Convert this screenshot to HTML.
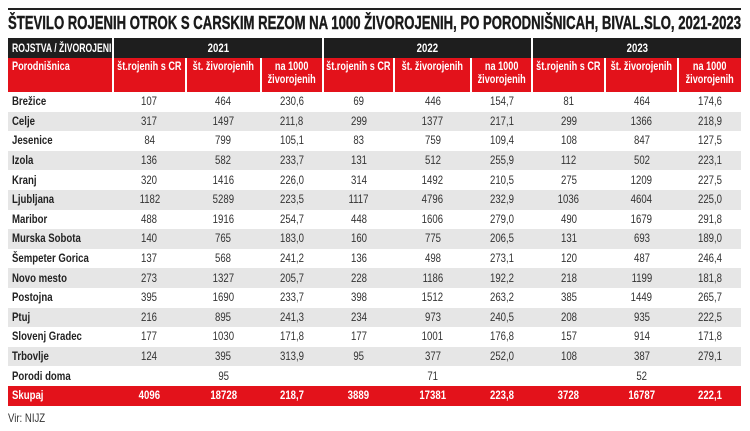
<!DOCTYPE html>
<html><head><meta charset="utf-8"><style>
body{margin:0;width:750px;height:431px;background:#fff;position:relative;overflow:hidden;font-family:"Liberation Sans",sans-serif;}
.rule{position:absolute;left:8px;top:8px;width:733px;height:2px;background:#222;}
svg.t{position:absolute;left:0;top:0;}
table{position:absolute;left:8px;top:38px;width:733px;border-collapse:collapse;table-layout:fixed;font-size:12px;color:#333;}
td{padding:0;text-align:center;height:19.6px;line-height:19px;white-space:nowrap;}
td span{display:inline-block;transform:scaleX(0.8);margin:0 -30px;}
tr.h1 td{background:#1e1e1e;color:#fff;font-weight:bold;height:20px;line-height:20px;border-left:2px solid #fff;}
tr.h2 td{background:#e3121b;color:#fff;font-weight:bold;height:32px;border-left:2px solid #fff;vertical-align:top;padding-top:2px;line-height:13px;}
tr.h2 td span{transform:scaleX(0.76);}
tr.h1 td:first-child span,tr.h2 td:first-child span,td.n span{transform-origin:left center;margin:0 -40px 0 0;}
tr.h1 td:first-child span{transform:scaleX(0.72);}
tr.h1 td:first-child,tr.h2 td:first-child{border-left:none;text-align:left;padding-left:4px;}
td.n{text-align:left;padding-left:4px;font-weight:bold;color:#222;}
tr.g td{background:#e6e6e6;}
tr.tot td{background:#e3121b;color:#fff;font-weight:bold;}
.vir{position:absolute;left:8px;top:411px;font-size:12px;color:#333;transform:scaleX(0.8);transform-origin:left;}
</style></head><body>
<div class="rule"></div>
<svg class="t" width="750" height="36"><text x="8" y="29" textLength="733" lengthAdjust="spacingAndGlyphs" font-family="Liberation Sans, sans-serif" font-weight="bold" font-size="18" fill="#1a1a1a" stroke="#1a1a1a" stroke-width="0.4">ŠTEVILO ROJENIH OTROK S CARSKIM REZOM NA 1000 ŽIVOROJENIH, PO PORODNIŠNICAH, BIVAL.SLO, 2021-2023</text></svg>
<table>
<colgroup><col style="width:105px"><col style="width:73px"><col style="width:75px"><col style="width:62px"><col style="width:71px"><col style="width:77px"><col style="width:61px"><col style="width:73px"><col style="width:73px"><col style="width:63px"></colgroup>
<tr class="h1"><td><span>ROJSTVA / ŽIVOROJENI</span></td><td colspan="3"><span>2021</span></td><td colspan="3"><span>2022</span></td><td colspan="3"><span>2023</span></td></tr>
<tr class="h2"><td><span>Porodnišnica</span></td><td><span>št.rojenih s CR</span></td><td><span>št. živorojenih</span></td><td><span>na 1000<br>živorojenih</span></td><td><span>št.rojenih s CR</span></td><td><span>št. živorojenih</span></td><td><span>na 1000<br>živorojenih</span></td><td><span>št.rojenih s CR</span></td><td><span>št. živorojenih</span></td><td><span>na 1000<br>živorojenih</span></td></tr>
<tr><td class="n"><span>Brežice</span></td><td><span>107</span></td><td><span>464</span></td><td><span>230,6</span></td><td><span>69</span></td><td><span>446</span></td><td><span>154,7</span></td><td><span>81</span></td><td><span>464</span></td><td><span>174,6</span></td></tr>
<tr class="g"><td class="n"><span>Celje</span></td><td><span>317</span></td><td><span>1497</span></td><td><span>211,8</span></td><td><span>299</span></td><td><span>1377</span></td><td><span>217,1</span></td><td><span>299</span></td><td><span>1366</span></td><td><span>218,9</span></td></tr>
<tr><td class="n"><span>Jesenice</span></td><td><span>84</span></td><td><span>799</span></td><td><span>105,1</span></td><td><span>83</span></td><td><span>759</span></td><td><span>109,4</span></td><td><span>108</span></td><td><span>847</span></td><td><span>127,5</span></td></tr>
<tr class="g"><td class="n"><span>Izola</span></td><td><span>136</span></td><td><span>582</span></td><td><span>233,7</span></td><td><span>131</span></td><td><span>512</span></td><td><span>255,9</span></td><td><span>112</span></td><td><span>502</span></td><td><span>223,1</span></td></tr>
<tr><td class="n"><span>Kranj</span></td><td><span>320</span></td><td><span>1416</span></td><td><span>226,0</span></td><td><span>314</span></td><td><span>1492</span></td><td><span>210,5</span></td><td><span>275</span></td><td><span>1209</span></td><td><span>227,5</span></td></tr>
<tr class="g"><td class="n"><span>Ljubljana</span></td><td><span>1182</span></td><td><span>5289</span></td><td><span>223,5</span></td><td><span>1117</span></td><td><span>4796</span></td><td><span>232,9</span></td><td><span>1036</span></td><td><span>4604</span></td><td><span>225,0</span></td></tr>
<tr><td class="n"><span>Maribor</span></td><td><span>488</span></td><td><span>1916</span></td><td><span>254,7</span></td><td><span>448</span></td><td><span>1606</span></td><td><span>279,0</span></td><td><span>490</span></td><td><span>1679</span></td><td><span>291,8</span></td></tr>
<tr class="g"><td class="n"><span>Murska Sobota</span></td><td><span>140</span></td><td><span>765</span></td><td><span>183,0</span></td><td><span>160</span></td><td><span>775</span></td><td><span>206,5</span></td><td><span>131</span></td><td><span>693</span></td><td><span>189,0</span></td></tr>
<tr><td class="n"><span>Šempeter Gorica</span></td><td><span>137</span></td><td><span>568</span></td><td><span>241,2</span></td><td><span>136</span></td><td><span>498</span></td><td><span>273,1</span></td><td><span>120</span></td><td><span>487</span></td><td><span>246,4</span></td></tr>
<tr class="g"><td class="n"><span>Novo mesto</span></td><td><span>273</span></td><td><span>1327</span></td><td><span>205,7</span></td><td><span>228</span></td><td><span>1186</span></td><td><span>192,2</span></td><td><span>218</span></td><td><span>1199</span></td><td><span>181,8</span></td></tr>
<tr><td class="n"><span>Postojna</span></td><td><span>395</span></td><td><span>1690</span></td><td><span>233,7</span></td><td><span>398</span></td><td><span>1512</span></td><td><span>263,2</span></td><td><span>385</span></td><td><span>1449</span></td><td><span>265,7</span></td></tr>
<tr class="g"><td class="n"><span>Ptuj</span></td><td><span>216</span></td><td><span>895</span></td><td><span>241,3</span></td><td><span>234</span></td><td><span>973</span></td><td><span>240,5</span></td><td><span>208</span></td><td><span>935</span></td><td><span>222,5</span></td></tr>
<tr><td class="n"><span>Slovenj Gradec</span></td><td><span>177</span></td><td><span>1030</span></td><td><span>171,8</span></td><td><span>177</span></td><td><span>1001</span></td><td><span>176,8</span></td><td><span>157</span></td><td><span>914</span></td><td><span>171,8</span></td></tr>
<tr class="g"><td class="n"><span>Trbovlje</span></td><td><span>124</span></td><td><span>395</span></td><td><span>313,9</span></td><td><span>95</span></td><td><span>377</span></td><td><span>252,0</span></td><td><span>108</span></td><td><span>387</span></td><td><span>279,1</span></td></tr>
<tr><td class="n"><span>Porodi doma</span></td><td></td><td><span>95</span></td><td></td><td></td><td><span>71</span></td><td></td><td></td><td><span>52</span></td><td></td></tr>
<tr class="tot"><td class="n" style="color:#fff"><span>Skupaj</span></td><td><span>4096</span></td><td><span>18728</span></td><td><span>218,7</span></td><td><span>3889</span></td><td><span>17381</span></td><td><span>223,8</span></td><td><span>3728</span></td><td><span>16787</span></td><td><span>222,1</span></td></tr>
</table>
<div class="vir">Vir: NIJZ</div>
</body></html>
